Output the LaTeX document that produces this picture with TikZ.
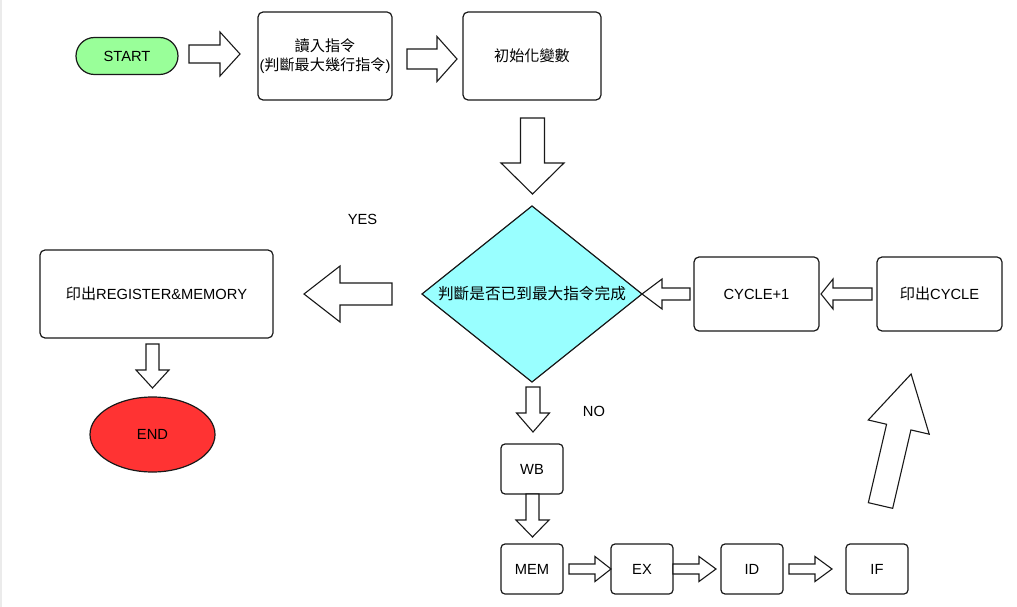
\documentclass[tikz,border=0pt]{standalone}
\usepackage{fontspec}
\setmainfont{Liberation Sans}
\newfontfamily\cjk[Scale=1.03]{Noto Sans CJK TC}
\usetikzlibrary{shapes.geometric}

\definecolor{startgreen}{HTML}{99FF99}
\definecolor{decisioncyan}{HTML}{99FFFF}
\definecolor{endred}{HTML}{FF3333}

% Hollow block arrow: tail centre (#1,#2), direction #3 (deg), length #4,
% shaft half-width #5, head half-width #6, head length #7
\newcommand{\blockarrow}[7]{%
  \begin{scope}[shift={(#1,#2)}, rotate=#3]
    \draw[blockarrowstyle] (0,-#5) -- ({#4-#7},-#5) -- ({#4-#7},-#6) -- (#4,0)
      -- ({#4-#7},#6) -- ({#4-#7},#5) -- (0,#5) -- cycle;
  \end{scope}}

\tikzset{
  every node/.style={font=\fontsize{14.7}{19}\selectfont, text=black},
  box/.style={draw=black!90, line width=1.2pt, rounded corners=5pt, fill=white,
    inner sep=0pt, align=center},
  smallbox/.style={box, rounded corners=4pt, minimum width=62pt, minimum height=50pt},
  blockarrowstyle/.style={draw=black!90, line width=1.1pt, fill=white, line join=miter},
  label text/.style={inner sep=0pt}
}

\begin{document}
\begin{tikzpicture}[x=1pt, y=-1pt]
  \useasboundingbox (0,0) rectangle (1017,607);
  \fill[white] (0,0) rectangle (1017,607);
  \fill[black!8] (0,0) rectangle (2,607);

  % top row
  \node[box, fill=startgreen, rounded corners=18.5pt, minimum width=102pt, minimum height=37pt]
    (start) at (127,56) {START};
  \node[box, minimum width=134pt, minimum height=88pt] (read) at (325,56)
    {{\cjk 讀入指令}\\({\cjk 判斷最大幾行指令})};
  \node[box, minimum width=138pt, minimum height=88pt] (init) at (532,56) {\cjk 初始化變數};

  % decision
  \coordinate (dc) at (532,294);
  \draw[draw=black!90, line width=1.2pt, fill=decisioncyan, line join=miter]
    (532,206) -- (642,294) -- (532,382) -- (422,294) -- cycle;
  \node[label text, font=\fontsize{15.2}{19}\selectfont] (decision) at (dc)
    {\cjk 判斷是否已到最大指令完成};

  % left branch
  \node[box, minimum width=233pt, minimum height=88pt] (print) at (156.5,294)
    {{\cjk 印出}REGISTER\&MEMORY};
  \node[draw=black!90, line width=1.2pt, fill=endred, ellipse, minimum width=125pt,
    minimum height=75pt, inner sep=0pt] (end) at (152.5,434.5) {END};

  % right loop
  \node[box, minimum width=125pt, minimum height=74pt] (inc) at (756.5,294) {CYCLE+1};
  \node[box, minimum width=125pt, minimum height=74pt] (pcycle) at (939.5,294)
    {{\cjk 印出}CYCLE};

  % pipeline stages
  \node[smallbox] (wb) at (532,469) {WB};
  \node[smallbox] (mem) at (532,569) {MEM};
  \node[smallbox] (ex) at (642,569) {EX};
  \node[smallbox] (id) at (752,569) {ID};
  \node[smallbox] (if) at (877,569) {IF};

  % branch labels
  \node[label text] (yes) at (362.5,219) {YES};
  \node[label text] (no) at (594,411) {NO};

  % block arrows
  \blockarrow{189}{54}{0}{51}{9}{22}{20}
  \blockarrow{407}{59}{0}{50}{10}{22.5}{20}
  \blockarrow{532.5}{118}{-90}{76}{12}{31.5}{31}
  \blockarrow{392}{294}{180}{88}{11}{28}{36}
  \blockarrow{152.5}{344}{-90}{44}{6.5}{16.5}{18}
  \blockarrow{690}{294}{180}{48}{6}{15}{20}
  \blockarrow{872}{294}{180}{51}{6}{15}{12}
  \blockarrow{533}{387}{-90}{45}{7}{16.5}{19}
  \blockarrow{532.5}{494}{-90}{43}{6.5}{16.5}{17}
  \blockarrow{569}{569}{0}{42}{5}{12.5}{16}
  \blockarrow{673}{569}{0}{43}{5}{12.5}{17}
  \blockarrow{789}{569}{0}{43}{5}{12.5}{17}
  \blockarrow{880.5}{505.5}{76.9}{135}{12.5}{31.3}{54.5}
\end{tikzpicture}
\end{document}
